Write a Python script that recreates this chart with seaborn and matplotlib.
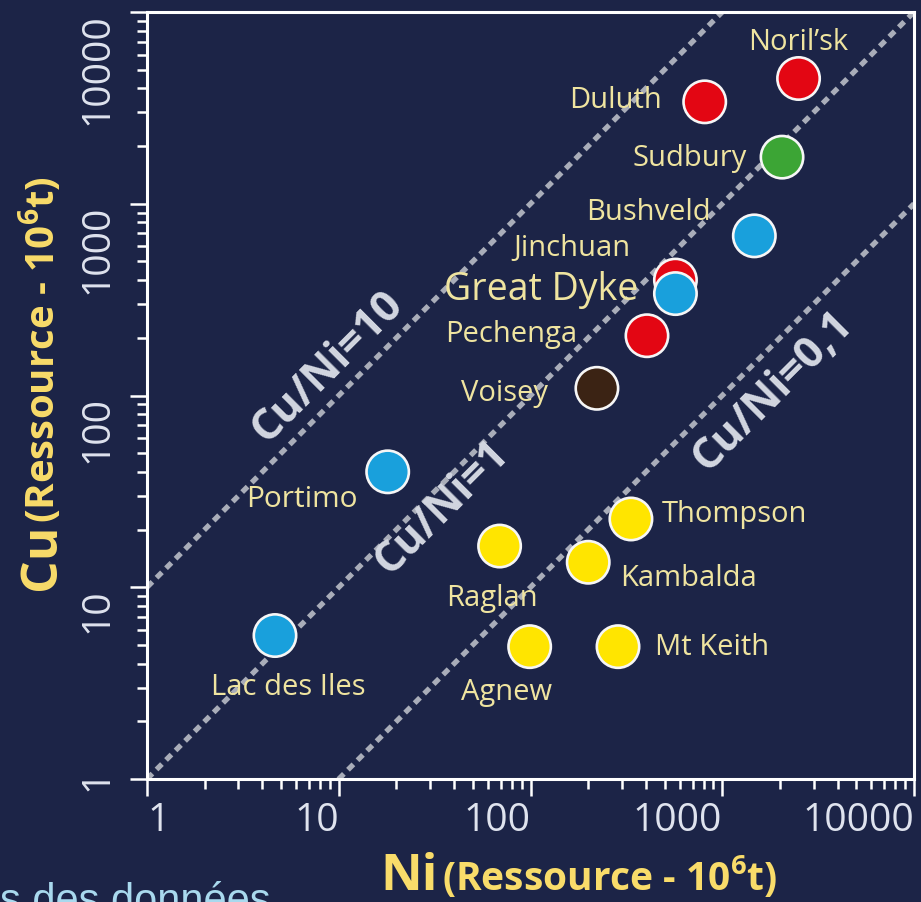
import numpy as np
import pandas as pd
import matplotlib
matplotlib.use("Agg")
import matplotlib.pyplot as plt
import matplotlib.ticker as mticker
import seaborn as sns

# ---------------- data ----------------
deposits = ["Noril’sk", "Duluth", "Sudbury", "Bushveld", "Jinchuan", "Great Dyke",
            "Pechenga", "Voisey", "Portimo", "Lac des Iles", "Raglan", "Kambalda",
            "Thompson", "Agnew", "Mt Keith"]
ni_mt = [2500, 810, 2050, 1470, 570, 570, 405, 222, 18, 4.65, 69, 200, 334, 99, 286]
cu_mt = [4500, 3400, 1750, 680, 400, 340, 205, 109, 40, 5.6, 16.4, 13.5, 22.7, 4.9, 4.9]
colour_group = ["red", "red", "green", "blue", "red", "blue",
                "red", "brown", "blue", "blue", "yellow", "yellow",
                "yellow", "yellow", "yellow"]
ratios = [10, 1, 0.1]
ratio_labels = ["Cu/Ni=10", "Cu/Ni=1", "Cu/Ni=0,1"]
tick_values = [1, 10, 100, 1000, 10000]
tick_labels = ["1", "10", "100", "1000", "10000"]
axis_min, axis_max = 1, 10000

# ---------------- style ----------------
BG = "#1c2447"
group_colours = {"red": "#e30613", "green": "#3ca535", "blue": "#19a0dc",
                 "brown": "#3b2314", "yellow": "#ffe500"}
LABEL_COL = "#efe4a0"
AXLAB_COL = "#f9dc6a"
TICK_COL = "#dfe3ee"
RATIO_COL = "#d3d7e1"
LINE_COL = "#a9adb9"

sns.set_style("white")
plt.rcParams["font.family"] = ["Open Sans", "DejaVu Sans"]
plt.rcParams["mathtext.fontset"] = "custom"
plt.rcParams["mathtext.rm"] = "Open Sans:bold"
plt.rcParams["mathtext.it"] = "Open Sans:bold"
plt.rcParams["mathtext.bf"] = "Open Sans:bold"

W, H = 921, 903
fig = plt.figure(figsize=(W / 100, H / 100), dpi=100, facecolor=BG)
L, R, T, B = 147, 914, 13, 780
ax = fig.add_axes([L / W, 1 - B / H, (R - L) / W, (B - T) / H])
ax.set_facecolor(BG)

def fx(px):
    return px / W

def fy(py):
    return 1 - py / H

# ratio lines
line_rows = []
for r in ratios:
    for xv in (axis_min, axis_max):
        line_rows.append({"ni": xv, "cu": r * xv, "ratio": str(r)})
lines_df = pd.DataFrame(line_rows)
sns.lineplot(data=lines_df, x="ni", y="cu", units="ratio", estimator=None,
             color=LINE_COL, linewidth=3.8, linestyle=(0, (1.45, 1.1)),
             dash_capstyle="butt", ax=ax, zorder=1, legend=False)

# points
df = pd.DataFrame({"deposit": deposits, "ni": ni_mt, "cu": cu_mt, "group": colour_group})
sns.scatterplot(data=df, x="ni", y="cu", hue="group", palette=group_colours,
                s=930, edgecolor="#f6f6f6", linewidth=1.9, legend=False,
                ax=ax, zorder=3)

ax.set_xscale("log")
ax.set_yscale("log")
ax.set_xlim(axis_min, axis_max)
ax.set_ylim(axis_min, axis_max)

# point labels (offset in pixels, up positive)
label_layout = {
    "Noril’sk": (0, 37, "center", 21),
    "Duluth": (-43, 2, "right", 21),
    "Sudbury": (-35, 0, "right", 21),
    "Bushveld": (-44, 24, "right", 21),
    "Jinchuan": (-45, 33, "right", 21),
    "Great Dyke": (-37, 5, "right", 27),
    "Pechenga": (-70, 2, "right", 21),
    "Voisey": (-49, -4, "right", 21),
    "Portimo": (-30, -27, "right", 21.5),
    "Lac des Iles": (13, -51, "center", 21),
    "Raglan": (-8, -51, "center", 21),
    "Kambalda": (32, -15, "left", 21),
    "Thompson": (31, 5, "left", 21),
    "Agnew": (-23, -45, "center", 21),
    "Mt Keith": (37, 0, "left", 21),
}
for name, xv, yv in zip(deposits, ni_mt, cu_mt):
    dx, dy, ha, fs = label_layout[name]
    ax.annotate(name, xy=(xv, yv), xytext=(dx, dy), textcoords="offset pixels",
                ha=ha, va="center", fontsize=fs, color=LABEL_COL, zorder=4)

# ratio line labels (pixel centres converted to data)
ratio_label_px = [(327, 367), (442, 507), (773, 391)]
dec = (R - L) / 4.0
for lab, (px, py) in zip(ratio_labels, ratio_label_px):
    xv = 10 ** ((px - L) / dec)
    yv = 10 ** ((B - py) / dec)
    ax.text(xv, yv, lab, rotation=45, rotation_mode="anchor", ha="center",
            va="center", fontsize=31, fontweight="bold", color=RATIO_COL, zorder=2)

# ticks
ax.set_xticks(tick_values)
ax.set_xticklabels(tick_labels)
ax.set_yticks(tick_values)
ax.set_yticklabels(tick_labels)
ax.xaxis.set_minor_locator(mticker.LogLocator(base=10, subs=np.arange(2, 10) * 1.0, numticks=20))
ax.yaxis.set_minor_locator(mticker.LogLocator(base=10, subs=np.arange(2, 10) * 1.0, numticks=20))
ax.xaxis.set_minor_formatter(mticker.NullFormatter())
ax.yaxis.set_minor_formatter(mticker.NullFormatter())
ax.tick_params(axis="both", which="both", bottom=True, left=True, top=False, right=False)
ax.tick_params(axis="both", which="major", direction="out", length=12, width=1.8,
               color="white", labelsize=28, labelcolor=TICK_COL)
ax.tick_params(axis="both", which="minor", direction="out", length=7.5, width=1.8,
               color="white")
ax.tick_params(axis="x", which="major", pad=4)
ax.tick_params(axis="y", which="major", pad=10)
for i, lab in enumerate(ax.get_xticklabels()):
    lab.set_ha("left" if i == 0 else "right")
for i, lab in enumerate(ax.get_yticklabels()):
    lab.set_rotation(90)
    lab.set_va("center" if i == 0 else "top")

for sp in ax.spines.values():
    sp.set_visible(True)
    sp.set_color("white")
    sp.set_linewidth(2.2)
ax.set_xlabel("")
ax.set_ylabel("")

# axis titles
fig.text(fx(380), fy(890), "Ni", fontsize=37, fontweight="bold", color=AXLAB_COL,
         ha="left", va="baseline")
fig.text(fx(442), fy(890), "(Ressource - 10$^{6}$t)", fontsize=28, fontweight="bold",
         color=AXLAB_COL, ha="left", va="baseline")
fig.text(fx(55), fy(590), "Cu", fontsize=37, fontweight="bold", color=AXLAB_COL,
         rotation=90, rotation_mode="anchor", ha="left", va="baseline")
fig.text(fx(55), fy(523), "(Ressource - 10$^{6}$t)", fontsize=29, fontweight="bold",
         color=AXLAB_COL, rotation=90, rotation_mode="anchor", ha="left", va="baseline")

# partially visible source line
fig.text(fx(0), fy(913), "s des données", fontsize=30, color="#a9d9ee",
         family=["Liberation Sans", "DejaVu Sans"], ha="left", va="baseline")

fig.savefig("out.png", dpi=100, facecolor=BG)
